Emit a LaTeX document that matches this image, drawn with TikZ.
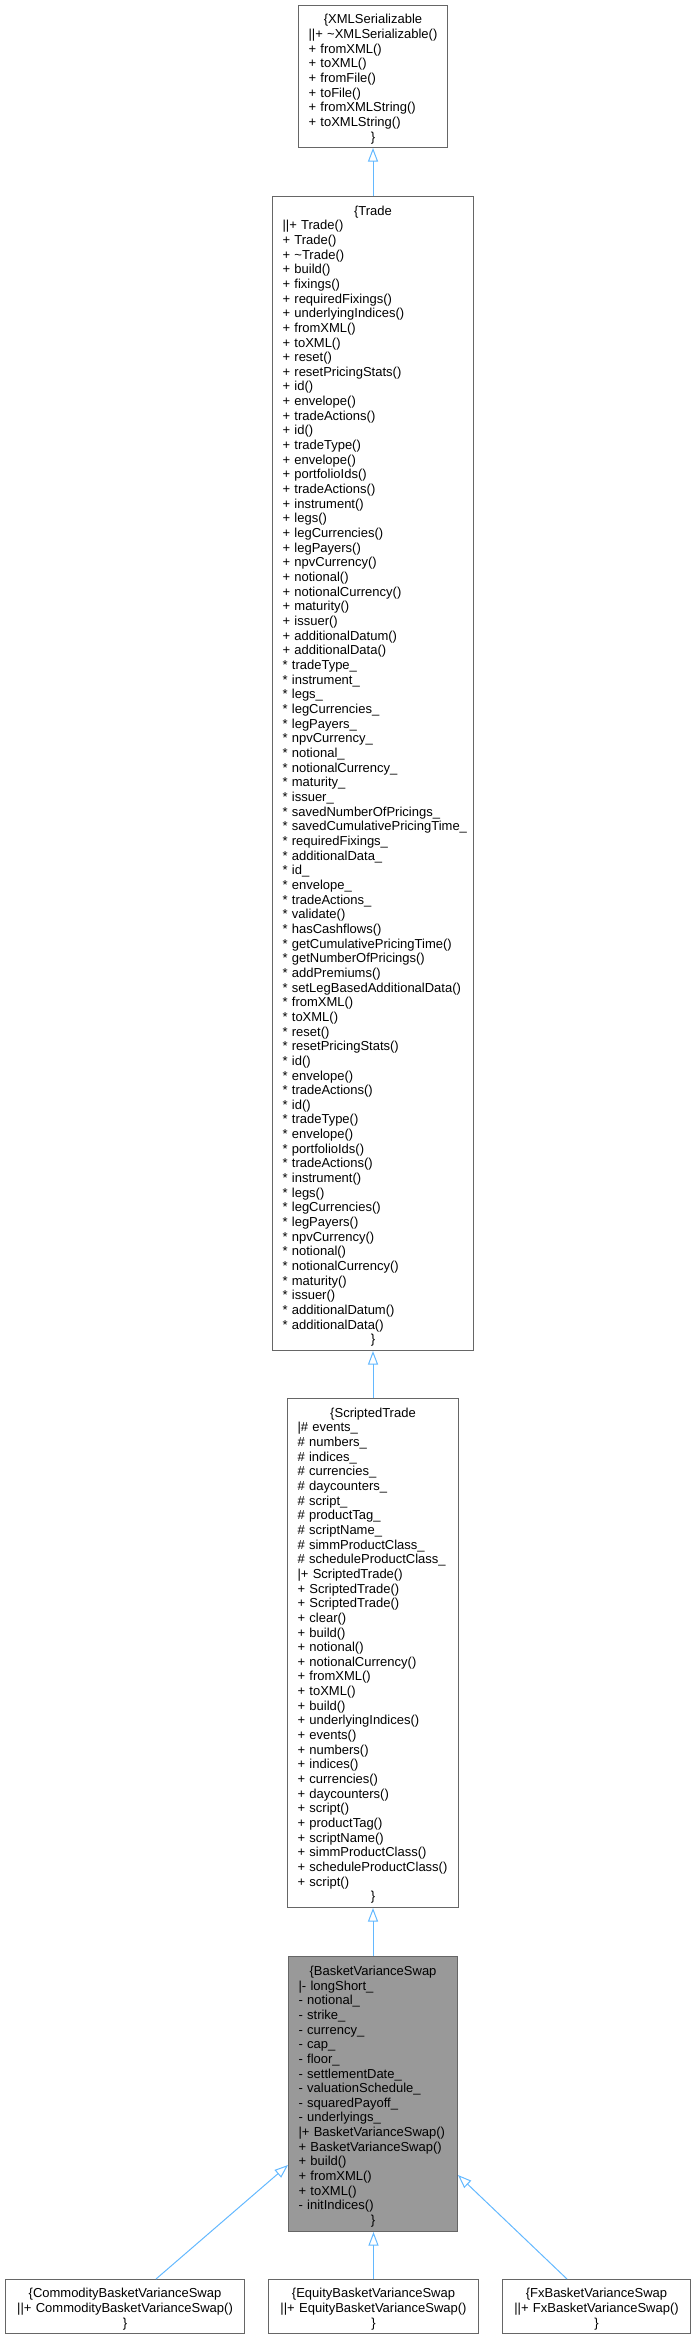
\documentclass[tikz,border=0pt]{standalone}
\usepackage{fontspec}
\setmainfont{Liberation Sans}
\usetikzlibrary{arrows.meta}
\definecolor{edgeblue}{HTML}{63B8FF}
\definecolor{boxgray}{HTML}{666666}
\definecolor{fillgray}{HTML}{999999}
\newcommand\hd[1]{\par{\centering #1\par}}
\newcommand\st{\relax{*}~}
\hyphenpenalty=10000
\exhyphenpenalty=10000
\hbadness=10000
\hfuzz=20pt
\begin{document}
\begin{tikzpicture}[x=1pt,y=-1pt,
  cls/.style={draw=boxgray, line width=1pt, fill=white, anchor=north west,
    inner xsep=10pt, inner ysep=0pt, align=left,
    font=\fontsize{13}{14.66}\selectfont},
  inh/.style={draw=edgeblue, line width=1pt,
    -{Triangle[open,length=13.5pt,width=10pt]}}]
\useasboundingbox (0,0) rectangle (694,2339);

\node[cls, minimum width=149pt, minimum height=142pt, text width=129pt] (xml) at (298,5) {%
\hd{\{XMLSerializable}
\textbar\textbar+~\textasciitilde XMLSerializable()\\
+~fromXML()\\
+~toXML()\\
+~fromFile()\\
+~toFile()\\
+~fromXMLString()\\
+~toXMLString()
\hd{\}}};

\node[cls, minimum width=201pt, minimum height=1154pt, text width=181pt] (trade) at (272,196) {%
\hd{\{Trade}
\textbar\textbar+~Trade()\\
+~Trade()\\
+~\textasciitilde Trade()\\
+~build()\\
+~fixings()\\
+~requiredFixings()\\
+~underlyingIndices()\\
+~fromXML()\\
+~toXML()\\
+~reset()\\
+~resetPricingStats()\\
+~id()\\
+~envelope()\\
+~tradeActions()\\
+~id()\\
+~tradeType()\\
+~envelope()\\
+~portfolioIds()\\
+~tradeActions()\\
+~instrument()\\
+~legs()\\
+~legCurrencies()\\
+~legPayers()\\
+~npvCurrency()\\
+~notional()\\
+~notionalCurrency()\\
+~maturity()\\
+~issuer()\\
+~additionalDatum()\\
+~additionalData()\\
\st tradeType\_\\
\st instrument\_\\
\st legs\_\\
\st legCurrencies\_\\
\st legPayers\_\\
\st npvCurrency\_\\
\st notional\_\\
\st notionalCurrency\_\\
\st maturity\_\\
\st issuer\_\\
\st savedNumberOfPricings\_\\
\mbox{\st savedCumulativePricingTime\_}\\
\st requiredFixings\_\\
\st additionalData\_\\
\st id\_\\
\st envelope\_\\
\st tradeActions\_\\
\st validate()\\
\st hasCashflows()\\
\st getCumulativePricingTime()\\
\st getNumberOfPricings()\\
\st addPremiums()\\
\st setLegBasedAdditionalData()\\
\st fromXML()\\
\st toXML()\\
\st reset()\\
\st resetPricingStats()\\
\st id()\\
\st envelope()\\
\st tradeActions()\\
\st id()\\
\st tradeType()\\
\st envelope()\\
\st portfolioIds()\\
\st tradeActions()\\
\st instrument()\\
\st legs()\\
\st legCurrencies()\\
\st legPayers()\\
\st npvCurrency()\\
\st notional()\\
\st notionalCurrency()\\
\st maturity()\\
\st issuer()\\
\st additionalDatum()\\
\st additionalData()
\hd{\}}};

\node[cls, minimum width=171pt, minimum height=509pt, text width=151pt] (st) at (287,1398) {%
\hd{\{ScriptedTrade}
\textbar\#~events\_\\
\#~numbers\_\\
\#~indices\_\\
\#~currencies\_\\
\#~daycounters\_\\
\#~script\_\\
\#~productTag\_\\
\#~scriptName\_\\
\#~simmProductClass\_\\
\#~scheduleProductClass\_\\
\textbar+~ScriptedTrade()\\
+~ScriptedTrade()\\
+~ScriptedTrade()\\
+~clear()\\
+~build()\\
+~notional()\\
+~notionalCurrency()\\
+~fromXML()\\
+~toXML()\\
+~build()\\
+~underlyingIndices()\\
+~events()\\
+~numbers()\\
+~indices()\\
+~currencies()\\
+~daycounters()\\
+~script()\\
+~productTag()\\
+~scriptName()\\
+~simmProductClass()\\
+~scheduleProductClass()\\
+~script()
\hd{\}}};

\node[cls, fill=fillgray, minimum width=169pt, minimum height=275pt, text width=149pt] (bvs) at (288,1956) {%
\hd{\{BasketVarianceSwap}
\textbar-~longShort\_\\
-~notional\_\\
-~strike\_\\
-~currency\_\\
-~cap\_\\
-~floor\_\\
-~settlementDate\_\\
-~valuationSchedule\_\\
-~squaredPayoff\_\\
-~underlyings\_\\
\textbar+~BasketVarianceSwap()\\
+~BasketVarianceSwap()\\
+~build()\\
+~fromXML()\\
+~toXML()\\
-~initIndices()
\hd{\}}};

\node[cls, minimum width=239pt, minimum height=54pt, text width=219pt] (comm) at (5,2279) {%
\hd{\{CommodityBasketVarianceSwap}
\hd{\textbar\textbar+~CommodityBasketVarianceSwap()}
\hd{\}}};

\node[cls, minimum width=210pt, minimum height=54pt, text width=190pt] (eq) at (268,2279) {%
\hd{\{EquityBasketVarianceSwap}
\hd{\textbar\textbar+~EquityBasketVarianceSwap()}
\hd{\}}};

\node[cls, minimum width=188pt, minimum height=54pt, text width=168pt] (fx) at (502,2279) {%
\hd{\{FxBasketVarianceSwap}
\hd{\textbar\textbar+~FxBasketVarianceSwap()}
\hd{\}}};

\draw[inh] (trade.north) -- (xml.south);
\draw[inh] (st.north) -- (trade.south);
\draw[inh] (bvs.north) -- (st.south);
\draw[inh] (eq.north) -- (eq.north |- bvs.south);
\draw[inh] ([xshift=151pt]comm.north west) -- ([yshift=-71pt]bvs.west);
\draw[inh] ([xshift=65pt]fx.north west) -- ([yshift=-81pt]bvs.east);
\end{tikzpicture}
\end{document}
